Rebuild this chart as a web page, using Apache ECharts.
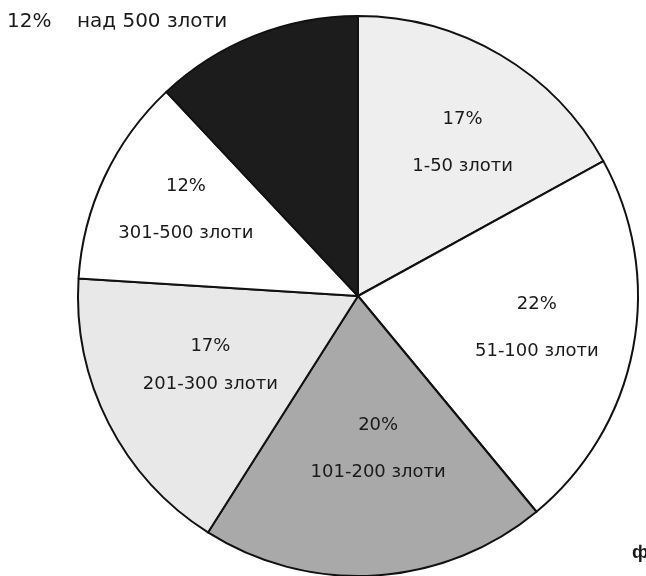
<!DOCTYPE html>
<html>
<head>
<meta charset="utf-8">
<script src="https://cdn.jsdelivr.net/npm/echarts@6/dist/echarts.min.js"></script>
<style>
  html, body { margin: 0; padding: 0; background: #fff; }
  #chart { width: 646px; height: 576px; }
</style>
</head>
<body>
<div id="chart"></div>
<script>
// Spending bands (zloty) and their shares in percent
const categories = ['1-50 злоти', '51-100 злоти', '101-200 злоти', '201-300 злоти', '301-500 злоти', 'над 500 злоти'];
const shares = [17, 22, 20, 17, 12, 12];
const fills = ['#eeeeee', '#ffffff', '#a9a9a9', '#e8e8e8', '#ffffff', '#1c1c1c'];

const CX = 358, CY = 296, R = 280;
const FONT = '"DejaVu Sans", Verdana, sans-serif';

// Fine placement of each inside label block (px)
const labelShift = [[14, 0], [4, -2], [9, -25], [11, -11], [-11, -10]];

const chart = echarts.init(document.getElementById('chart'));

const slices = categories.map((name, i) => ({
  name, value: shares[i],
  itemStyle: { color: fills[i] }
}));

// Same slices, transparent, only to carry the text further out than mid-radius
const labelSlices = categories.map((name, i) => {
  const item = { name, value: shares[i] };
  if (i === 3) item.label = { lineHeight: 38 };
  if (i === categories.length - 1) {
    item.label = { formatter: '{c}%    {b}', lineHeight: 22, fontSize: 20 };
  }
  return item;
});

chart.setOption({
  animation: false,
  backgroundColor: '#ffffff',
  series: [
    {
      type: 'pie',
      center: [CX, CY],
      radius: [0, R],
      startAngle: 90,
      clockwise: true,
      silent: true,
      label: { show: false },
      labelLine: { show: false },
      itemStyle: { borderColor: '#111111', borderWidth: 2 },
      data: slices
    },
    {
      type: 'pie',
      center: [CX, CY],
      radius: [0, 350],
      startAngle: 90,
      clockwise: true,
      silent: true,
      itemStyle: { color: 'rgba(0,0,0,0)', borderWidth: 0 },
      labelLine: { show: false },
      label: {
        show: true,
        position: 'inside',
        formatter: '{c}%\n{b}',
        fontFamily: FONT,
        fontSize: 18,
        lineHeight: 47,
        color: '#1a1a1a',
        align: 'center'
      },
      labelLayout: function (p) {
        if (p.dataIndex === categories.length - 1) {
          return { x: 7, y: 22, align: 'left', verticalAlign: 'middle' };
        }
        const s = labelShift[p.dataIndex];
        return { dx: s[0], dy: s[1] };
      },
      data: labelSlices
    }
  ],
  graphic: [
    {
      type: 'text',
      left: 632,
      top: 543,
      style: { text: 'ф', font: 'bold 19px "Liberation Sans", Arial, sans-serif', fill: '#1a1a1a' }
    }
  ]
});
</script>
</body>
</html>
